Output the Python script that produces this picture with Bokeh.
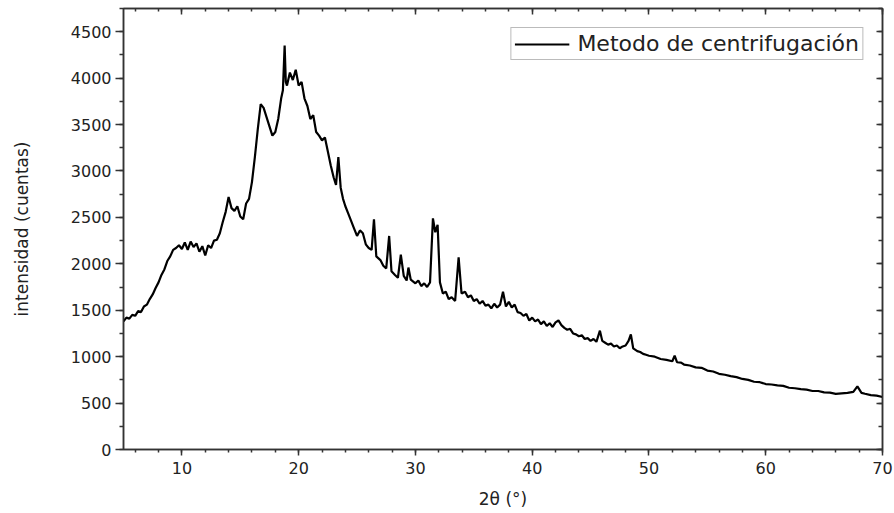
from bokeh.plotting import figure
from bokeh.models import (Range1d, LinearAxis, SingleIntervalTicker, CustomJSTickFormatter,
                          Legend, LegendItem)
from bokeh.embed import file_html
from bokeh.resources import INLINE

# 2-theta (degrees) and intensity (counts)
two_theta = [
    5.00, 5.25, 5.50, 5.75, 6.00, 6.25, 6.50, 6.75, 7.00, 7.25, 7.50, 7.75,
    8.00, 8.25, 8.50, 8.75, 9.00, 9.25, 9.50, 9.75, 10.00, 10.25, 10.50, 10.75,
    11.00, 11.25, 11.50, 11.75, 12.00, 12.25, 12.50, 12.75, 13.00, 13.25, 13.50, 13.75,
    14.00, 14.25, 14.50, 14.75, 15.00, 15.25, 15.50, 15.75, 16.00, 16.25, 16.50, 16.75,
    17.00, 17.25, 17.50, 17.75, 18.00, 18.25, 18.50, 18.65, 18.80, 18.90, 19.00, 19.25,
    19.50, 19.75, 20.00, 20.25, 20.50, 20.75, 21.00, 21.25, 21.50, 21.75, 22.00, 22.25,
    22.50, 22.75, 23.00, 23.20, 23.40, 23.60, 23.80, 24.00, 24.25, 24.50, 24.75, 25.00,
    25.25, 25.50, 25.75, 26.00, 26.25, 26.45, 26.65, 27.00, 27.25, 27.50, 27.75, 27.95,
    28.25, 28.50, 28.75, 29.00, 29.25, 29.40, 29.60, 30.00, 30.25, 30.50, 30.75, 31.00,
    31.25, 31.50, 31.70, 31.90, 32.10, 32.35, 32.60, 32.85, 33.10, 33.40, 33.70, 33.95,
    34.25, 34.50, 34.75, 35.00, 35.25, 35.50, 35.75, 36.00, 36.25, 36.50, 36.75, 37.00,
    37.25, 37.50, 37.75, 38.00, 38.25, 38.50, 38.75, 39.00, 39.25, 39.50, 39.75, 40.00,
    40.25, 40.50, 40.75, 41.00, 41.25, 41.50, 41.75, 42.00, 42.25, 42.50, 42.75, 43.00,
    43.25, 43.50, 43.75, 44.00, 44.25, 44.50, 44.75, 45.00, 45.25, 45.50, 45.80, 46.00,
    46.25, 46.50, 46.75, 47.00, 47.25, 47.50, 47.75, 48.00, 48.25, 48.45, 48.65, 49.00,
    49.25, 49.50, 49.75, 50.00, 50.50, 51.00, 51.50, 52.00, 52.20, 52.40, 52.75, 53.00,
    53.50, 54.00, 54.50, 55.00, 55.50, 56.00, 56.50, 57.00, 57.50, 58.00, 58.50, 59.00,
    59.50, 60.00, 60.50, 61.00, 61.50, 62.00, 62.50, 63.00, 63.50, 64.00, 64.50, 65.00,
    65.50, 66.00, 66.50, 67.00, 67.50, 67.85, 68.20, 68.50, 69.00, 69.50, 70.00,
]
intensity = [
    1380, 1420, 1410, 1450, 1440, 1490, 1480, 1540, 1560, 1620, 1670, 1740,
    1800, 1880, 1940, 2030, 2080, 2150, 2170, 2200, 2160, 2230, 2150, 2240,
    2180, 2220, 2130, 2190, 2090, 2200, 2170, 2250, 2260, 2330, 2450, 2560,
    2720, 2600, 2570, 2620, 2510, 2480, 2650, 2700, 2880, 3150, 3450, 3720,
    3680, 3580, 3480, 3380, 3420, 3560, 3780, 3870, 4350, 3960, 3920, 4060,
    3980, 4090, 3920, 3960, 3780, 3700, 3560, 3600, 3420, 3380, 3330, 3360,
    3210, 3060, 2930, 2850, 3150, 2820, 2700, 2620, 2540, 2460, 2380, 2300,
    2360, 2330, 2210, 2170, 2150, 2480, 2080, 2040, 1980, 1950, 2300, 1920,
    1880, 1850, 2100, 1870, 1820, 1960, 1830, 1790, 1820, 1760, 1790, 1750,
    1800, 2490, 2340, 2420, 1800, 1680, 1700, 1620, 1640, 1600, 2070, 1680,
    1700, 1640, 1660, 1600, 1620, 1570, 1600, 1550, 1560, 1520, 1570, 1530,
    1560, 1700, 1540, 1590, 1530, 1560, 1480, 1470, 1440, 1460, 1390, 1420,
    1380, 1400, 1350, 1380, 1330, 1360, 1320, 1370, 1390, 1340, 1310, 1290,
    1300, 1250, 1240, 1220, 1230, 1190, 1200, 1170, 1190, 1160, 1280, 1170,
    1150, 1130, 1140, 1110, 1120, 1090, 1110, 1120, 1170, 1240, 1090, 1060,
    1050, 1030, 1020, 1010, 1000, 975, 965, 950, 1010, 940, 935, 915,
    905, 885, 880, 850, 840, 815, 805, 790, 780, 760, 750, 730,
    725, 705, 700, 690, 685, 665, 660, 650, 645, 630, 630, 615,
    612, 600, 605, 610, 620, 680, 610, 600, 585, 580, 565,
]

x_ticks_interval = 10
y_ticks_interval = 500
series_label = "Metodo de centrifugación"
x_label = "2\u03b8 (\u00b0)"
y_label = "intensidad (cuentas)"

FONT = "DejaVu Sans"
TXT = "#222222"

p = figure(width=894, height=513, frame_width=759, frame_height=441,
           output_backend="svg", toolbar_location=None,
           x_range=Range1d(5, 70), y_range=Range1d(0, 4750),
           min_border_left=123, min_border_right=12, min_border_top=8, min_border_bottom=64)

p.xgrid.visible = False
p.ygrid.visible = False
p.background_fill_color = "white"
p.border_fill_color = "white"
p.outline_line_color = "#333333"
p.outline_line_width = 1.5

r = p.line(two_theta, intensity, line_color="black", line_width=2.2)

xa = p.xaxis[0]
xa.ticker = SingleIntervalTicker(interval=x_ticks_interval, num_minor_ticks=5)
xa.axis_label = x_label
ya = p.yaxis[0]
ya.ticker = SingleIntervalTicker(interval=y_ticks_interval, num_minor_ticks=2)
ya.axis_label = y_label

for ax in (xa, ya):
    ax.axis_line_color = "#333333"
    ax.axis_line_width = 1.5
    ax.major_tick_line_color = "#333333"
    ax.minor_tick_line_color = "#333333"
    ax.major_tick_line_width = 1.5
    ax.minor_tick_line_width = 1.5
    ax.major_tick_in = 0
    ax.minor_tick_in = 0
    ax.major_label_text_font = FONT
    ax.major_label_text_font_size = "16px"
    ax.major_label_text_color = TXT
    ax.axis_label_text_font = FONT
    ax.axis_label_text_font_size = "17px"
    ax.axis_label_text_font_style = "normal"
    ax.axis_label_text_color = TXT

xa.major_tick_out = 6
xa.minor_tick_out = 3
xa.major_label_standoff = 6
xa.axis_label_standoff = 12
ya.major_tick_out = 8
ya.minor_tick_out = 4
ya.major_label_standoff = 4
ya.axis_label_standoff = 36

blank = CustomJSTickFormatter(code="return ''")
top = LinearAxis(ticker=SingleIntervalTicker(interval=x_ticks_interval, num_minor_ticks=5),
                 formatter=blank, major_tick_in=6, major_tick_out=0, minor_tick_in=3,
                 minor_tick_out=0, axis_line_color="#333333", axis_line_width=1.5,
                 major_tick_line_color="#333333", minor_tick_line_color="#333333",
                 major_tick_line_width=1.5, minor_tick_line_width=1.5,
                 major_label_text_font_size="1px", major_label_standoff=0)
right = LinearAxis(ticker=SingleIntervalTicker(interval=y_ticks_interval, num_minor_ticks=2),
                   formatter=blank, major_tick_in=6, major_tick_out=0, minor_tick_in=4,
                   minor_tick_out=0, axis_line_color="#333333", axis_line_width=1.5,
                   major_tick_line_color="#333333", minor_tick_line_color="#333333",
                   major_tick_line_width=1.5, minor_tick_line_width=1.5,
                   major_label_text_font_size="1px", major_label_standoff=0)
p.add_layout(top, "above")
p.add_layout(right, "right")

legend = Legend(items=[LegendItem(label=series_label, renderers=[r])],
                location="top_right", margin=19, padding=3,
                glyph_width=55, glyph_height=20, label_height=22, label_standoff=8,
                label_text_font=FONT, label_text_font_size="22px", label_text_color=TXT,
                border_line_color="#777777", border_line_width=1,
                background_fill_color="white", background_fill_alpha=1.0)
p.add_layout(legend, "center")

open("out.html", "w").write(file_html(p, INLINE))
